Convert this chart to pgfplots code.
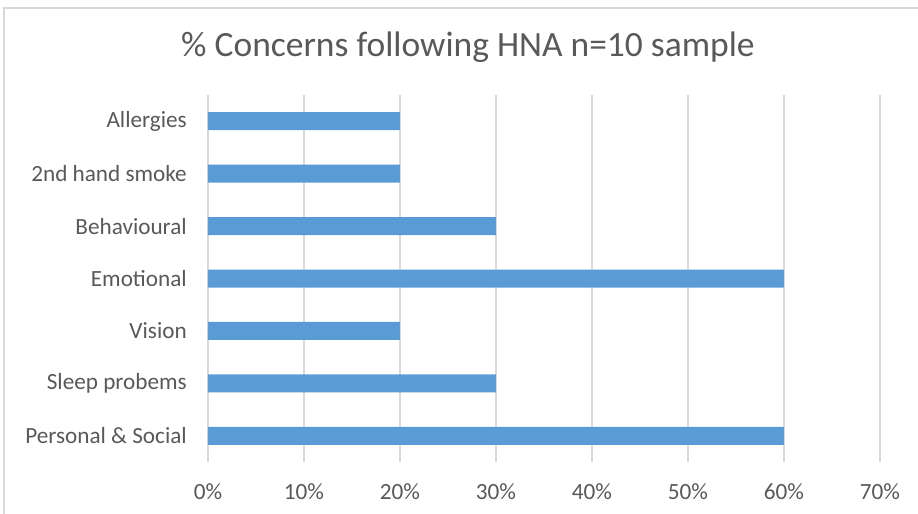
\documentclass[border=0pt]{standalone}
\usepackage{pgfplots}
\pgfplotsset{compat=1.18}
\usepackage{fontspec}
\setmainfont{Carlito}
\definecolor{barblue}{HTML}{5B9BD5}
\definecolor{txtgrey}{HTML}{595959}
\definecolor{gridgrey}{HTML}{D9D9D9}
\begin{document}
\begin{tikzpicture}
\begin{axis}[
    scale only axis, width=13.44cm, height=7.34cm,
    xbar, bar width=0.36cm,
    xmin=0, xmax=70,
    ymin=-0.5, ymax=6.5,
    xtick={0,10,...,70},
    xticklabel={\pgfmathprintnumber{\tick}\%},
    /pgf/number format/assume math mode=true,
    ytick={0,...,6},
    yticklabels={Personal \& Social, Sleep probems\ , Vision, Emotional\ , Behavioural, 2nd hand smoke\ , Allergies},
    xmajorgrids, grid style={gridgrey, line width=0.8pt},
    axis line style={draw=none},
    major tick length=0pt,
    tick label style={txtgrey, font=\fontsize{13.2}{15}\selectfont},
    xticklabel style={yshift=-0.3cm},
    yticklabel style={xshift=-0.3cm},
    clip=false,
]
\addplot[fill=barblue, draw=none] coordinates {
    (60,0) (30,1) (20,2) (60,3) (30,4) (20,5) (20,6)
};
\end{axis}
% axis box lower left is at (0,0); page matches the 918 x 514 reference
\useasboundingbox (-4.16,-1.04) rectangle (14.2,9.24);
\draw[gridgrey, line width=1pt] (-4.08,-1.04) -- (-4.08,9.08) -- (14.2,9.08);
\node[txtgrey, font=\fontsize{20.2}{23}\selectfont] at (5.2,8.3) {\% Concerns following HNA n=10 sample};
\end{tikzpicture}
\end{document}
